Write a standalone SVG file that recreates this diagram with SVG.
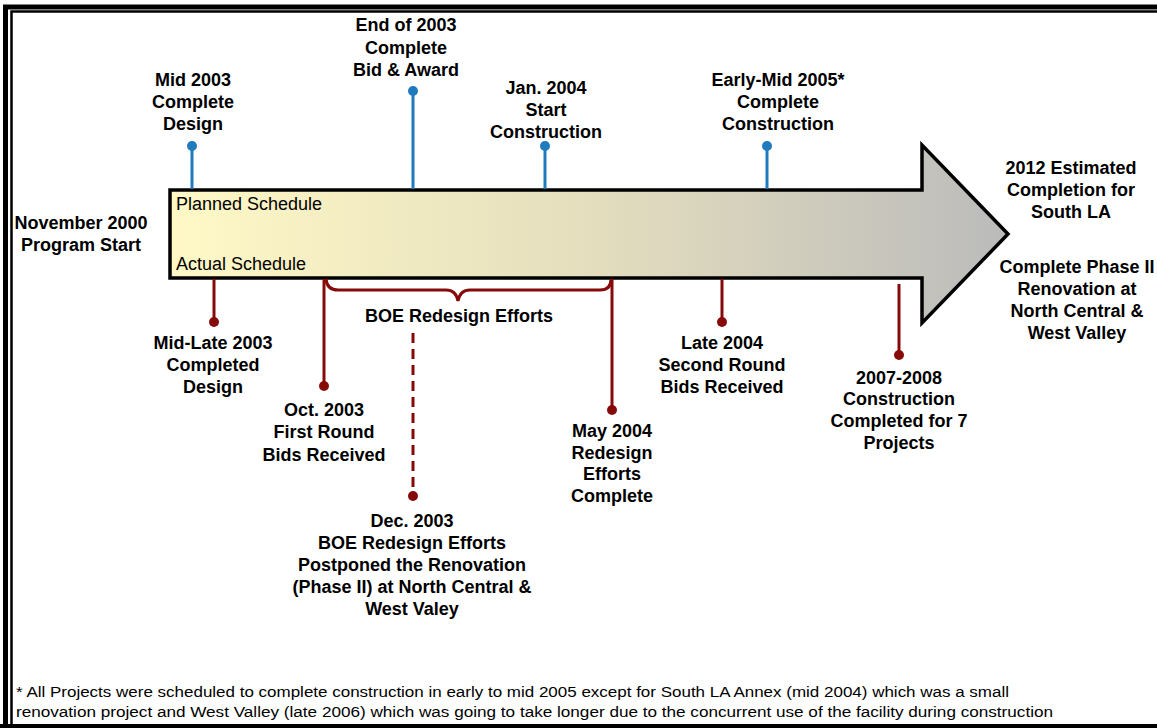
<svg xmlns="http://www.w3.org/2000/svg" width="1157" height="728" viewBox="0 0 1157 728">
<defs>
<linearGradient id="g" x1="0" x2="1" y1="0" y2="0">
<stop offset="0" stop-color="#FFF8C6"/>
<stop offset="0.5" stop-color="#E4DEBE"/>
<stop offset="1" stop-color="#BBBBBB"/>
</linearGradient>
<style>
.b{font-family:"Liberation Sans",Arial,sans-serif;font-weight:bold;font-size:18px;fill:#000;text-anchor:middle}
.r{font-family:"Liberation Sans",Arial,sans-serif;font-size:18px;fill:#000}
.f{font-family:"Liberation Sans",Arial,sans-serif;font-size:14px;fill:#000}
.bl{stroke:#1F7BBE;stroke-width:3;fill:none}
.bd{fill:#1F7BBE}
.rd{stroke:#870A0A;stroke-width:3;fill:none}
.rdd{fill:#870A0A}
</style>
</defs>
<rect width="1157" height="728" fill="#fff"/>
<g id="frame">
<path d="M5.5 728 V7 H1160" fill="none" stroke="#000" stroke-width="5"/>
<path d="M11.5 728 V11.5 H1160" fill="none" stroke="#000" stroke-width="2.5"/>
<line x1="0" y1="726" x2="1157" y2="726" stroke="#000" stroke-width="4"/>
</g>
<g id="arrow">
<path d="M170 190 H922 V145 L1008 234 L922 323 V278 H170 Z" fill="url(#g)" stroke="#000" stroke-width="3.5" stroke-linejoin="miter"/>
<text class="r" x="176" y="210">Planned Schedule</text>
<text class="r" x="176" y="270">Actual Schedule</text>
</g>
<g id="connectors">
<line class="bl" x1="192" y1="146" x2="192" y2="189"/>
<circle class="bd" cx="192" cy="146" r="5"/>
<line class="bl" x1="413" y1="91" x2="413" y2="189"/>
<circle class="bd" cx="413" cy="91" r="5"/>
<line class="bl" x1="545" y1="146" x2="545" y2="189"/>
<circle class="bd" cx="545" cy="146" r="5"/>
<line class="bl" x1="767" y1="146" x2="767" y2="189"/>
<circle class="bd" cx="767" cy="146" r="5"/>
<line class="rd" x1="214" y1="279" x2="214" y2="322"/>
<circle class="rdd" cx="214" cy="322" r="5"/>
<line class="rd" x1="324" y1="279" x2="324" y2="386"/>
<circle class="rdd" cx="324" cy="386" r="5"/>
<line class="rd" x1="612" y1="279" x2="612" y2="410"/>
<circle class="rdd" cx="612" cy="410" r="5"/>
<line class="rd" x1="722" y1="279" x2="722" y2="322"/>
<circle class="rdd" cx="722" cy="322" r="5"/>
<line class="rd" x1="899" y1="284" x2="899" y2="355"/>
<circle class="rdd" cx="899" cy="355" r="5"/>
<line class="rd" x1="413" y1="333" x2="413" y2="493" stroke-width="4" stroke-dasharray="10,6"/>
<circle class="rdd" cx="413" cy="496" r="5"/>
<path class="rd" d="M326 279 Q327 290 338 290 H446 Q456 290 458 301 Q460 290 470 290 H600 Q611 290 611 279"/>
</g>
<g id="t-nov"><text class="b" x="81" y="229">November 2000</text><text class="b" x="81" y="251">Program Start</text></g>
<g id="t-mid2003"><text class="b" x="193" y="86">Mid 2003</text><text class="b" x="193" y="108">Complete</text><text class="b" x="193" y="130">Design</text></g>
<g id="t-end2003"><text class="b" x="406" y="31">End of 2003</text><text class="b" x="406" y="54">Complete</text><text class="b" x="406" y="76">Bid &amp; Award</text></g>
<g id="t-jan2004"><text class="b" x="546" y="94">Jan. 2004</text><text class="b" x="546" y="116">Start</text><text class="b" x="546" y="138">Construction</text></g>
<g id="t-early2005"><text class="b" x="778" y="86">Early-Mid 2005*</text><text class="b" x="778" y="108">Complete</text><text class="b" x="778" y="130">Construction</text></g>
<g id="t-2012"><text class="b" x="1071" y="174">2012 Estimated</text><text class="b" x="1071" y="196">Completion for</text><text class="b" x="1071" y="218">South LA</text></g>
<g id="t-phase2"><text class="b" x="1077" y="273">Complete Phase II</text><text class="b" x="1077" y="295">Renovation at</text><text class="b" x="1077" y="317">North Central &amp;</text><text class="b" x="1077" y="339">West Valley</text></g>
<g id="t-midlate"><text class="b" x="213" y="349">Mid-Late 2003</text><text class="b" x="213" y="371">Completed</text><text class="b" x="213" y="393">Design</text></g>
<g id="t-oct"><text class="b" x="324" y="416">Oct. 2003</text><text class="b" x="324" y="438">First Round</text><text class="b" x="324" y="461">Bids Received</text></g>
<g id="t-boe"><text class="b" x="459" y="322">BOE Redesign Efforts</text></g>
<g id="t-dec"><text class="b" x="412" y="527">Dec. 2003</text><text class="b" x="412" y="549">BOE Redesign Efforts</text><text class="b" x="412" y="571">Postponed the Renovation</text><text class="b" x="412" y="593">(Phase II) at North Central &amp;</text><text class="b" x="412" y="615">West Valey</text></g>
<g id="t-may"><text class="b" x="612" y="437">May 2004</text><text class="b" x="612" y="459">Redesign</text><text class="b" x="612" y="480">Efforts</text><text class="b" x="612" y="502">Complete</text></g>
<g id="t-late2004"><text class="b" x="722" y="349">Late 2004</text><text class="b" x="722" y="371">Second Round</text><text class="b" x="722" y="393">Bids Received</text></g>
<g id="t-2007"><text class="b" x="899" y="384">2007-2008</text><text class="b" x="899" y="405">Construction</text><text class="b" x="899" y="427">Completed for 7</text><text class="b" x="899" y="449">Projects</text></g>
<g id="footnote">
<text class="f" x="16" y="697" textLength="993" lengthAdjust="spacingAndGlyphs">* All Projects were scheduled to complete construction in early to mid 2005 except for South LA Annex (mid 2004) which was a small</text>
<text class="f" x="16" y="717" textLength="1037" lengthAdjust="spacingAndGlyphs">renovation project and West Valley (late 2006) which was going to take longer due to the concurrent use of the facility during construction</text>
</g>
</svg>
